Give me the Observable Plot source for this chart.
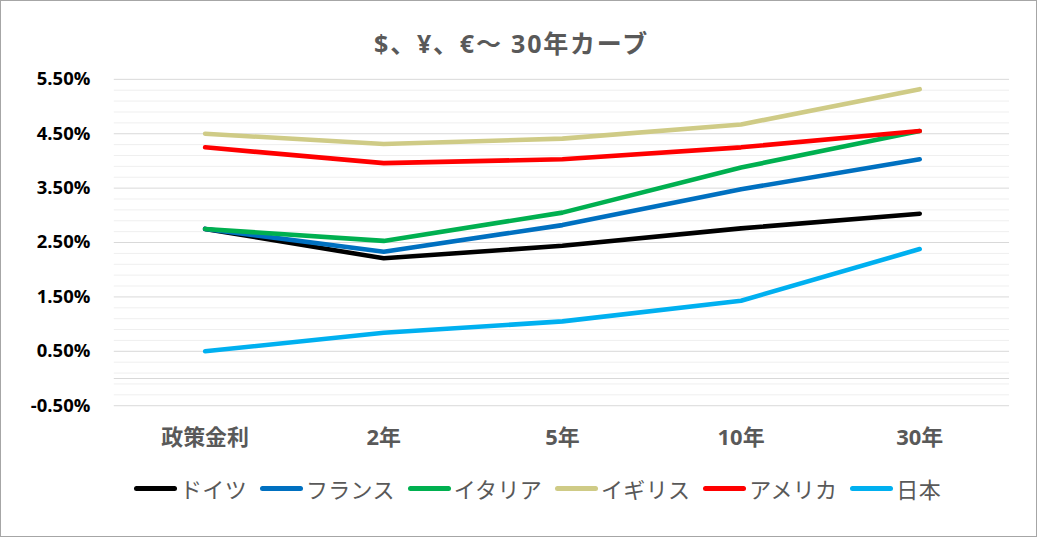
<!DOCTYPE html>
<html>
<head>
<meta charset="utf-8">
<script src="https://cdn.jsdelivr.net/npm/d3@7"></script>
<script src="https://cdn.jsdelivr.net/npm/@observablehq/plot@0.6"></script>
<style>
  html, body { margin: 0; padding: 0; background: #fff; }
  #chart { position: relative; width: 1037px; height: 537px; box-sizing: border-box; border: 1px solid #a6a6a6; background: #fff; overflow: hidden;
    font-family: "Open Sans", "Noto Sans CJK JP", sans-serif; }
  #title { position: absolute; top: 25px; left: -8px; width: 1037px; text-align: center; font-size: 25px; font-weight: bold; color: #595959; line-height: 34px; letter-spacing: 1.8px; }
  #plot { position: absolute; top: 0; left: 0; }
  #legend { position: absolute; top: 472px; left: 18px; width: 1037px; display: flex; justify-content: center; align-items: center; gap: 13px; font-size: 22px; color: #595959; font-family: "Noto Sans CJK JP", sans-serif; line-height: 30px; letter-spacing: 0.3px; }
  .item { display: flex; align-items: center; gap: 3px; }
  .sw { width: 43px; height: 5px; border-radius: 3px; }
</style>
</head>
<body>
<div id="chart">
  <div id="plot"></div>
  <div id="title">$、¥、€〜 30年カーブ</div>
  <div id="legend"></div>
</div>
<script>
const categories = ["政策金利", "2年", "5年", "10年", "30年"];
const seriesNames = ["ドイツ", "フランス", "イタリア", "イギリス", "アメリカ", "日本"];
const germany = [2.75, 2.21, 2.44, 2.76, 3.03];
const france  = [2.75, 2.33, 2.82, 3.48, 4.03];
const italy   = [2.75, 2.53, 3.05, 3.88, 4.55];
const uk      = [4.50, 4.31, 4.41, 4.67, 5.32];
const us      = [4.25, 3.96, 4.03, 4.25, 4.55];
const japan   = [0.50, 0.84, 1.05, 1.43, 2.38];
const yTicks = [-0.5, 0.5, 1.5, 2.5, 3.5, 4.5, 5.5];
const colors = ["#000000", "#0070C0", "#00B050", "#CFCB86", "#FF0000", "#00B0F0"];

const allSeries = [germany, france, italy, uk, us, japan];
const data = [];
allSeries.forEach((vals, s) => {
  vals.forEach((v, i) => data.push({series: seriesNames[s], cat: categories[i], value: v}));
});

const minorTicks = d3.range(-0.5, 5.51, 0.2).map(d => +d.toFixed(2)).filter(d => !yTicks.some(t => Math.abs(t - d) < 1e-6));

const chart = Plot.plot({
  width: 1037,
  height: 470,
  marginTop: 78,
  marginBottom: 65,
  marginLeft: 113,
  marginRight: 27,
  style: {fontFamily: '"Open Sans", "Noto Sans CJK JP", sans-serif', background: "transparent"},
  x: {type: "point", domain: categories, padding: 0.5, label: null},
  y: {domain: [-0.5, 5.5], label: null},
  color: {domain: seriesNames, range: colors},
  marks: [
    Plot.ruleY(minorTicks, {stroke: "#efefef", strokeWidth: 1}),
    Plot.ruleY(yTicks, {stroke: "#d9d9d9", strokeWidth: 1}),
    Plot.ruleY([0], {stroke: "#d9d9d9", strokeWidth: 1}),
    Plot.ruleX([0], {frameAnchor: "left", stroke: "#d9d9d9"}),
    Plot.line(data, {x: "cat", y: "value", z: "series", stroke: "series", strokeWidth: 4.6, strokeLinecap: "round", strokeLinejoin: "round"}),
    Plot.axisY({ticks: yTicks, tickFormat: d => d.toFixed(2) + "%", tickSize: 0, tickPadding: 24, fontSize: 18.5, fontWeight: "bold", fill: "#000", label: null}),
    Plot.axisX({tickSize: 0, tickPadding: 24, fontSize: 22, fontWeight: "bold", fill: "#595959", label: null, style: {letterSpacing: "0.8px"}})
  ]
});
document.getElementById("plot").appendChild(chart);

const legend = document.getElementById("legend");
seriesNames.forEach((name, i) => {
  const item = document.createElement("div");
  item.className = "item";
  const sw = document.createElement("div");
  sw.className = "sw";
  sw.style.background = colors[i];
  const lab = document.createElement("span");
  lab.textContent = name;
  item.appendChild(sw);
  item.appendChild(lab);
  legend.appendChild(item);
});
</script>
</body>
</html>
